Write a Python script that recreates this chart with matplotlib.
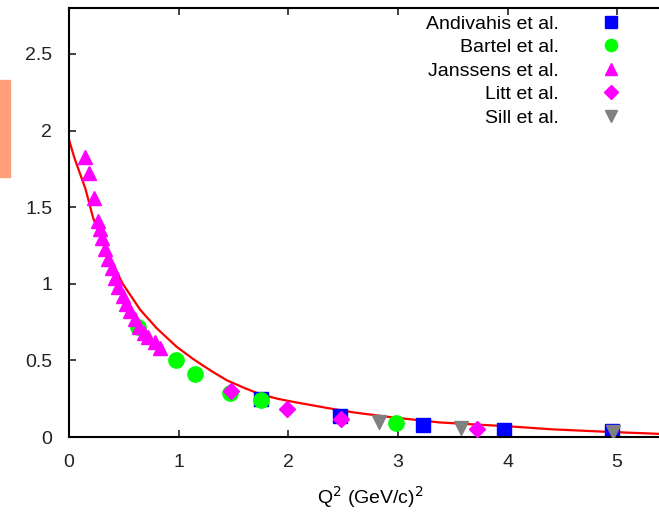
import matplotlib
matplotlib.use("Agg")
import matplotlib.pyplot as plt
from matplotlib.patches import Rectangle

plt.rcParams["font.family"] = ["Liberation Sans", "DejaVu Sans"]

# curve
curve_q2 = [0.0, 0.05, 0.10, 0.15, 0.22, 0.35, 0.49, 0.65, 0.80, 0.98, 1.13,
            1.30, 1.44, 1.60, 1.74, 1.90, 2.04, 2.35, 2.60, 2.93, 3.38, 3.75,
            4.00, 4.41, 4.87, 5.40]
curve_val = [1.94, 1.82, 1.72, 1.62, 1.43, 1.20, 1.00, 0.83, 0.71, 0.59, 0.51,
             0.43, 0.37, 0.32, 0.28, 0.25, 0.23, 0.19, 0.16, 0.13, 0.095, 0.08,
             0.07, 0.05, 0.035, 0.02]

# data sets
andivahis_q2 = [1.75, 2.47, 3.23, 3.97, 4.95]
andivahis_val = [0.25, 0.14, 0.08, 0.045, 0.04]

bartel_q2 = [0.63, 0.98, 1.15, 1.47, 1.75, 2.98]
bartel_val = [0.72, 0.50, 0.41, 0.29, 0.24, 0.09]

janssens_q2 = [0.15, 0.18, 0.23, 0.26, 0.28, 0.30, 0.33, 0.36, 0.39, 0.42,
               0.45, 0.49, 0.52, 0.56, 0.60, 0.64, 0.68, 0.72, 0.78, 0.83]
janssens_val = [1.83, 1.72, 1.56, 1.41, 1.36, 1.30, 1.23, 1.16, 1.10, 1.04,
                0.98, 0.92, 0.87, 0.82, 0.77, 0.72, 0.68, 0.65, 0.62, 0.58]

litt_q2 = [1.48, 1.99, 2.48, 3.72]
litt_val = [0.30, 0.18, 0.12, 0.055]

sill_q2 = [2.83, 3.58, 4.96]
sill_val = [0.10, 0.06, 0.035]

fig = plt.figure(figsize=(6.59, 5.16), dpi=100)
ax = fig.add_axes([0.1047, 0.1531, 0.915, 0.8314])

ax.plot(curve_q2, curve_val, color="red", lw=1.6, zorder=1)

ax.plot(andivahis_q2, andivahis_val, "s", color="#0000ff", ms=10.5, ls="none",
        label="Andivahis et al.", zorder=2)
ax.plot(bartel_q2, bartel_val, "o", color="#00ff00", ms=11, ls="none",
        label="Bartel et al.", zorder=3)
ax.plot(janssens_q2, janssens_val, "^", color="#ff00ff", ms=10.5, ls="none",
        label="Janssens et al.", zorder=4)
ax.plot(litt_q2, litt_val, "D", color="#ff00ff", ms=8.5, ls="none",
        label="Litt et al.", zorder=5)
ax.plot(sill_q2, sill_val, "v", color="#808080", ms=10.5, ls="none",
        label="Sill et al.", zorder=6)

ax.set_xlim(0, 5.5)
ax.set_ylim(0, 2.8)
ax.set_xticks([0, 1, 2, 3, 4, 5])
ax.set_yticks([0, 0.5, 1, 1.5, 2, 2.5])
ax.set_yticklabels(["0", "0.5", "1", "1.5", "2", "2.5"])
ax.tick_params(direction="in", length=5, width=1.2, labelsize=14, pad=12,
               top=True, right=True, colors="#222222")
for s in ax.spines.values():
    s.set_linewidth(1.5)

ax.set_xlabel("Q$^2$ (GeV/c)$^2$", fontsize=14, labelpad=10)

leg = ax.legend(loc="upper right", bbox_to_anchor=(0.935, 1.015), frameon=False,
                markerfirst=False, fontsize=14, handlelength=0.8,
                handletextpad=2.3, labelspacing=0.3, borderpad=0.2,
                markerscale=0.8)
for t in leg.get_texts():
    t.set_ha("right")

fig.patches.append(Rectangle((0, (516 - 177) / 516), 10 / 659, 97 / 516,
                             transform=fig.transFigure, color="#ffa07a",
                             zorder=0))

fig.savefig("out.png", dpi=100)
